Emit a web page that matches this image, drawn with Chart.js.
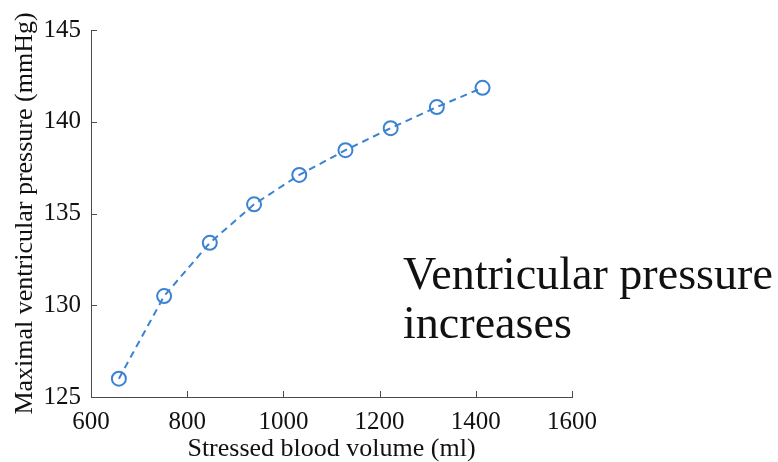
<!DOCTYPE html>
<html>
<head>
<meta charset="utf-8">
<script src="https://cdn.jsdelivr.net/npm/chart.js@4"></script>
<style>
  html, body { margin: 0; padding: 0; background: #fff; }
  #wrap { width: 778px; height: 462px; }
</style>
</head>
<body>
<div id="wrap"><canvas id="myChart" width="778" height="462"></canvas></div>
<script>
/*** data */
const volume = [658, 752, 847, 939, 1033, 1129, 1223, 1319, 1414];
const pressure = [126.0, 130.5, 133.4, 135.5, 137.1, 138.45, 139.65, 140.8, 141.85];
const xTicks = [600, 800, 1000, 1200, 1400, 1600];
const yTicks = [125, 130, 135, 140, 145];
const noteLines = ['Ventricular pressure', 'increases'];

const lineColor = '#3a82d2';
const axisColor = '#4a4a4a';
const serif = "'Liberation Serif', 'Times New Roman', serif";

/** inward tick marks + the text on the right */
const extras = {
  id: 'extras',
  afterDraw(chart) {
    const c = chart.ctx;
    const xs = chart.scales.x, ys = chart.scales.y;
    const a = chart.chartArea;
    c.save();
    c.strokeStyle = axisColor;
    c.lineWidth = 1;
    c.beginPath();
    xTicks.forEach(v => {
      const px = Math.round(xs.getPixelForValue(v)) + 0.5;
      c.moveTo(px, a.bottom);
      c.lineTo(px, a.bottom - 6);
    });
    yTicks.forEach(v => {
      const py = Math.round(ys.getPixelForValue(v)) + 0.5;
      c.moveTo(a.left, py);
      c.lineTo(a.left + 6, py);
    });
    c.stroke();

    // fit the first line to the width it has in the picture
    c.fillStyle = '#111';
    c.font = '40px ' + serif;
    const size = 40 * 370 / c.measureText(noteLines[0]).width;
    c.font = size.toFixed(1) + 'px ' + serif;
    c.textBaseline = 'alphabetic';
    c.fillText(noteLines[0], 403, 289);
    c.fillText(noteLines[1], 403, 338);
    c.restore();
  }
};

const ctx = document.getElementById('myChart').getContext('2d');
const points = volume.map((v, i) => ({ x: v, y: pressure[i] }));

new Chart(ctx, {
  type: 'scatter',
  data: {
    datasets: [{
      data: points,
      showLine: true,
      borderColor: lineColor,
      borderWidth: 2,
      borderDash: [7, 5],
      pointStyle: 'circle',
      pointRadius: 7,
      pointBorderWidth: 2,
      pointBorderColor: lineColor,
      pointBackgroundColor: 'rgba(0,0,0,0)'
    }]
  },
  options: {
    responsive: false,
    animation: false,
    layout: { padding: { top: 30, right: 206, left: 0, bottom: 0 } },
    plugins: { legend: { display: false }, tooltip: { enabled: false } },
    scales: {
      x: {
        type: 'linear',
        min: 600, max: 1600,
        afterFit(s) { s.height = 65; },
        afterBuildTicks(s) { s.ticks = xTicks.map(v => ({ value: v })); },
        grid: { display: false, drawTicks: false },
        border: { display: true, color: axisColor, width: 1 },
        ticks: {
          color: '#111', padding: 10, font: { family: serif, size: 25 },
          callback: v => String(v)
        },
        title: {
          display: true, text: 'Stressed blood volume (ml)', color: '#111',
          font: { family: serif, size: 26, lineHeight: 1 }, padding: { top: 0, bottom: 0 }
        }
      },
      y: {
        type: 'linear',
        min: 125, max: 145,
        afterFit(s) { s.width = 91; },
        afterBuildTicks(s) { s.ticks = yTicks.map(v => ({ value: v })); },
        grid: { display: false, drawTicks: false },
        border: { display: true, color: axisColor, width: 1 },
        ticks: {
          color: '#111', padding: 10, font: { family: serif, size: 25 },
          callback: v => String(v)
        },
        title: {
          display: true, text: 'Maximal ventricular pressure (mmHg)', color: '#111',
          font: { family: serif, size: 26, lineHeight: 1 }, padding: { top: 12, bottom: 0 }
        }
      }
    }
  },
  plugins: [extras]
});
</script>
</body>
</html>
